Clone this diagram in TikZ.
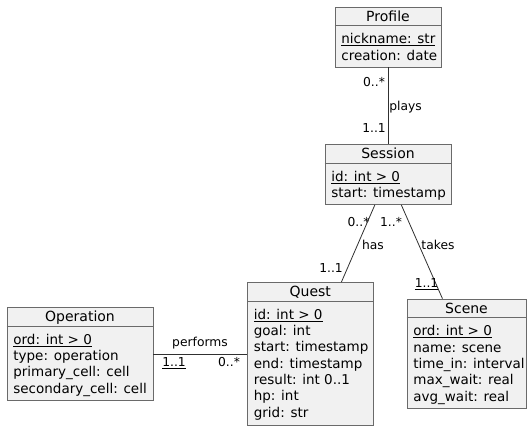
\documentclass[tikz,border=0pt]{standalone}
\usepackage{fontspec}
\setmainfont{DejaVu Sans}
\usetikzlibrary{calc}
\definecolor{classfill}{HTML}{F1F1F1}
\definecolor{classline}{HTML}{6A6A6A}
\definecolor{assocline}{HTML}{303030}
\tikzset{class box/.style={draw=classline,fill=classfill,line width=0.7pt,rectangle,inner sep=0}}
\tikzset{class name/.style={font=\fontsize{14}{16}\selectfont,anchor=base,inner sep=0}}
\tikzset{class attrs/.style={font=\fontsize{13.5}{16.3}\selectfont,align=left,anchor=north west,inner sep=0}}
\tikzset{class rule/.style={draw=classline,line width=0.7pt}}
\tikzset{assoc line/.style={draw=assocline,line width=0.8pt}}
\tikzset{assoc label/.style={font=\fontsize{12.3}{14}\selectfont,inner sep=0}}

\begin{document}
\begin{tikzpicture}[x=1pt,y=-1pt]

            \useasboundingbox (0,0) rectangle (532,431);

            \def \nameDrop{14.8}
            \def \ruleDrop{19}
            \def \attrDrop{26.7}
            \def \attrIndent{6.5}

            \node[class box, minimum width=106, minimum height=60] (profile) at (388, 37) {};
            \node[class box, minimum width=126, minimum height=60] (session) at (388, 174.5) {};
            \node[class box, minimum width=125.5, minimum height=143] (quest) at (310.25, 354) {};
            \node[class box, minimum width=119, minimum height=109] (scene) at (466.5, 353.5) {};
            \node[class box, minimum width=146, minimum height=93] (operation) at (80, 354) {};

            \node[class name] (profile name) at ($(profile.north)+(0,\nameDrop)$) {Profile};
            \node[class name] (session name) at ($(session.north)+(0,\nameDrop)$) {Session};
            \node[class name] (quest name) at ($(quest.north)+(0,\nameDrop)$) {Quest};
            \node[class name] (scene name) at ($(scene.north)+(0,\nameDrop)$) {Scene};
            \node[class name] (operation name) at ($(operation.north)+(0,\nameDrop)$) {Operation};

            \draw[class rule] ($(profile.north west)+(0,\ruleDrop)$) -- ($(profile.north east)+(0,\ruleDrop)$);
            \draw[class rule] ($(session.north west)+(0,\ruleDrop)$) -- ($(session.north east)+(0,\ruleDrop)$);
            \draw[class rule] ($(quest.north west)+(0,\ruleDrop)$) -- ($(quest.north east)+(0,\ruleDrop)$);
            \draw[class rule] ($(scene.north west)+(0,\ruleDrop)$) -- ($(scene.north east)+(0,\ruleDrop)$);
            \draw[class rule] ($(operation.north west)+(0,\ruleDrop)$) -- ($(operation.north east)+(0,\ruleDrop)$);

            \node[class attrs] (profile attrs) at ($(profile.north west)+(\attrIndent,\attrDrop)$)
              {\underline{nickname: str}\\creation: date};
            \node[class attrs] (session attrs) at ($(session.north west)+(\attrIndent,\attrDrop)$)
              {\underline{id: int > 0}\\start: timestamp};
            \node[class attrs] (quest attrs) at ($(quest.north west)+(\attrIndent,\attrDrop)$)
              {\underline{id: int > 0}\\goal: int\\start: timestamp\\end: timestamp\\result: int 0..1\\hp: int\\grid: str};
            \node[class attrs] (scene attrs) at ($(scene.north west)+(\attrIndent,\attrDrop)$)
              {\underline{ord: int > 0}\\name: scene\\time\_in: interval\\max\_wait: real\\avg\_wait: real};
            \node[class attrs] (operation attrs) at ($(operation.north west)+(\attrIndent,\attrDrop)$)
              {\underline{ord: int > 0}\\type: operation\\primary\_cell: cell\\secondary\_cell: cell};

            \draw[assoc line] (profile) -- (session);
            \draw[assoc line] (session) -- (quest);
            \draw[assoc line] (session) -- (scene);
            \draw[assoc line] (operation) -- (quest);

            \node[assoc label] (plays from) at (374, 82) {0..*};
            \node[assoc label] (plays verb) at (405.5, 107) {plays};
            \node[assoc label] (plays to) at (374, 128) {1..1};

            \node[assoc label] (has from) at (358.5, 222) {0..*};
            \node[assoc label] (has verb) at (373, 245) {has};
            \node[assoc label] (has to) at (331, 268) {1..1};

            \node[assoc label] (takes from) at (391, 222) {1..*};
            \node[assoc label] (takes verb) at (438, 245) {takes};
            \node[assoc label] (takes to) at (426.5, 284) {\underline{1..1}};

            \node[assoc label] (performs verb) at (200, 343) {performs};
            \node[assoc label] (performs from) at (174, 363) {\underline{1..1}};
            \node[assoc label] (performs to) at (229, 362) {0..*};

          \end{tikzpicture}
\end{document}
